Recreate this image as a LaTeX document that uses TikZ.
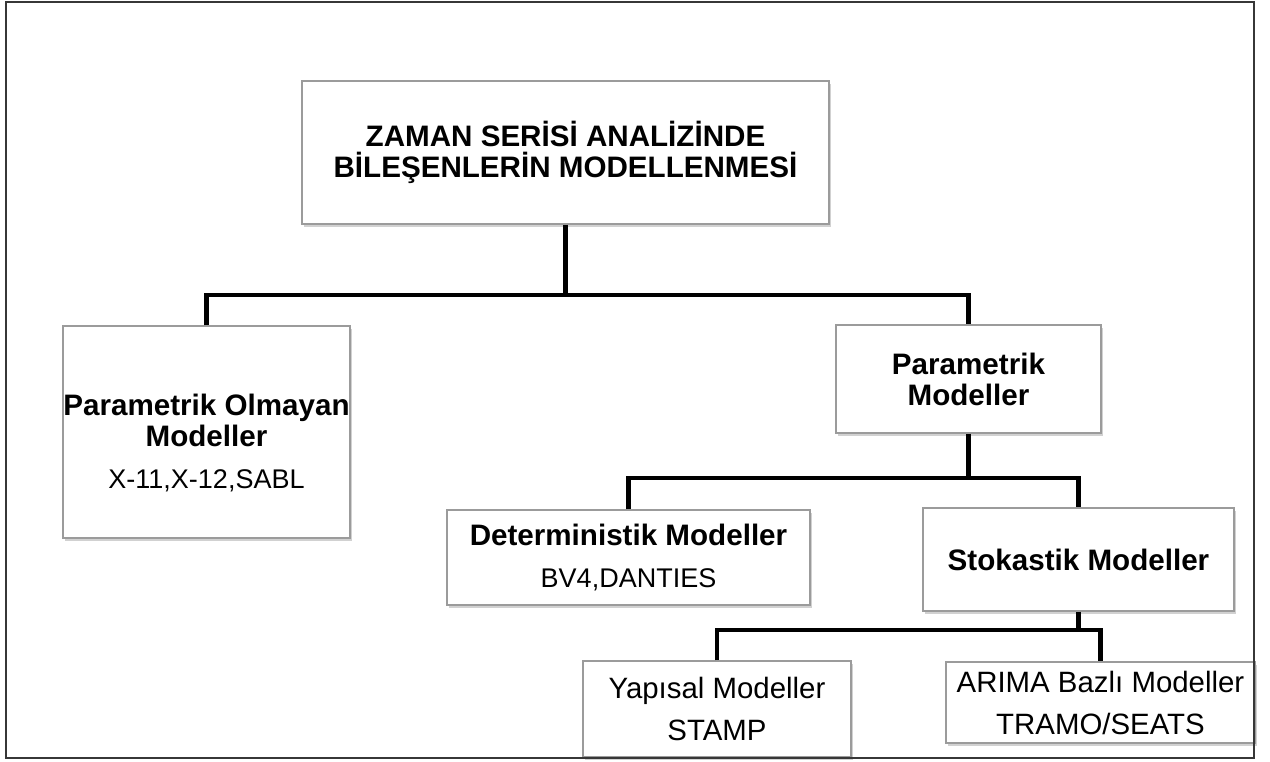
\documentclass[tikz,border=0pt]{standalone}
\usepackage{fontspec}
\setmainfont{Liberation Sans}
\usepackage{tikz}
\usetikzlibrary{positioning,calc,shadows}
\definecolor{boxgray}{RGB}{155,155,155}
\definecolor{framegray}{RGB}{55,55,55}
\newcommand{\subtext}[1]{{\mdseries\fontsize{13.5}{15.5}\selectfont #1}}
\tikzset{
  box/.style={rectangle,draw=boxgray,fill=white,line width=0.6pt,align=center,
              inner sep=0pt,font=\fontsize{14.7}{15.5}\selectfont,
              drop shadow={shadow xshift=1.2pt,shadow yshift=-1.6pt,fill=black!60,opacity=0.3}},
  bbox/.style={box,font=\fontsize{14.8}{15.5}\selectfont\bfseries},
  btext/.style={align=center,inner sep=0pt,font=\fontsize{14.8}{15.5}\selectfont\bfseries},
  link/.style={draw=black,line width=2.4pt,line join=miter},
}

\begin{document}
\begin{tikzpicture}[x=0.5pt,y=-0.5pt]
  \useasboundingbox (0,0) rectangle (1270,761);
  \node[bbox,minimum width=263.5pt,minimum height=71.5pt] (top) at (565.5,152.5)
    {ZAMAN SERİSİ ANALİZİNDE\\BİLEŞENLERİN MODELLENMESİ};
  \node[bbox,minimum width=143.5pt,minimum height=106pt] (npar) at (206.5,432) {};
  \node[btext,below=-19pt of npar.center] (npartxt)
    {Parametrik Olmayan\\Modeller\\[5.5pt]\subtext{X-11,X-12,SABL}};
  \node[bbox,minimum width=132.5pt,minimum height=54pt] (par) at (968.5,379)
    {Parametrik\\Modeller};
  \node[bbox,minimum width=181.5pt,minimum height=47.5pt] (det) at (628.5,557.5)
    {Deterministik Modeller\\[5.5pt]\subtext{BV4,DANTIES}};
  \node[bbox,minimum width=155.5pt,minimum height=51.5pt] (stok) at (1078.5,559.5)
    {Stokastik Modeller};
  \node[box,minimum width=134pt,minimum height=48pt] (yap) at (717,709)
    {Yapısal Modeller\\[5.5pt]STAMP};
  \node[box,minimum width=154.5pt,minimum height=40.5pt] (arima) at (1100.5,702.5)
    {ARIMA Bazlı Modeller\\[5.5pt]TRAMO/SEATS};
  % branch points
  \coordinate (j1) at (565.5,295);
  \coordinate (j2) at (968.5,478);
  \coordinate (j3) at (1078.5,630);
  \draw[link] (top.south) -- (j1);
  \draw[link] (npar.north) |- (j1) -| (par.north);
  \draw[link] (par.south) -- (j2);
  \draw[link] (det.north) |- (j2) -| (stok.north);
  \draw[link] (stok.south) -- (j3);
  \draw[link] (yap.north) |- (j3) -| (arima.north);
  % outer frame
  \draw[framegray,line width=1pt] (6,2) rectangle (1254,758);
\end{tikzpicture}
\end{document}
